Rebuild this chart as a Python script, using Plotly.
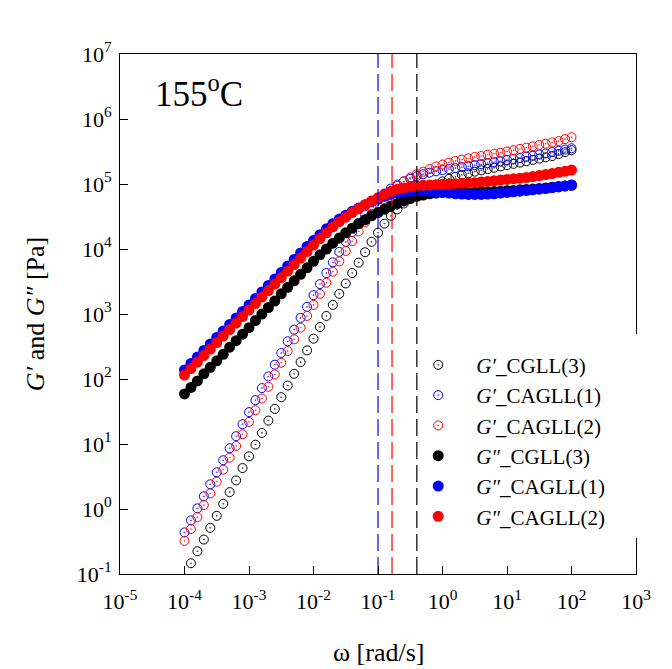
import numpy as np
import plotly.graph_objects as go

# angular frequency, log10(omega / rad s^-1)
log_omega = [-4.0, -3.9, -3.8, -3.7, -3.6, -3.5, -3.4, -3.3, -3.2, -3.1,
             -3.0, -2.9, -2.8, -2.7, -2.6, -2.5, -2.4, -2.3, -2.2, -2.1,
             -2.0, -1.9, -1.8, -1.7, -1.6, -1.5, -1.4, -1.3, -1.2, -1.1,
             -1.0, -0.9, -0.8, -0.7, -0.6, -0.5, -0.4, -0.3, -0.2, -0.1,
             0.0, 0.1, 0.2, 0.3, 0.4, 0.5, 0.6, 0.7, 0.8, 0.9,
             1.0, 1.1, 1.2, 1.3, 1.4, 1.5, 1.6, 1.7, 1.8, 1.9, 2.0]

# log10(G' / Pa)
log_gp_cgll3 = [-1.12, -0.835, -0.65, -0.47, -0.29, -0.105, 0.08, 0.26, 0.44, 0.63,
                0.81, 0.99, 1.17, 1.36, 1.54, 1.72, 1.90, 2.08, 2.26, 2.44,
                2.62, 2.80, 2.97, 3.14, 3.31, 3.47, 3.63, 3.79, 3.95, 4.11,
                4.25, 4.39, 4.51, 4.61, 4.70, 4.77, 4.83, 4.89, 4.94, 4.99,
                5.04, 5.08, 5.11, 5.14, 5.165, 5.19, 5.21, 5.23, 5.25, 5.27,
                5.29, 5.31, 5.33, 5.35, 5.37, 5.39, 5.41, 5.43, 5.46, 5.49, 5.52]
log_gp_cagll1 = [-0.36, -0.175, 0.01, 0.195, 0.38, 0.565, 0.75, 0.935, 1.12, 1.305,
                 1.49, 1.675, 1.86, 2.04, 2.22, 2.40, 2.58, 2.76, 2.94, 3.11,
                 3.29, 3.46, 3.63, 3.795, 3.955, 4.11, 4.26, 4.40, 4.53, 4.65,
                 4.76, 4.855, 4.93, 4.99, 5.04, 5.08, 5.12, 5.15, 5.175, 5.195,
                 5.215, 5.23, 5.245, 5.26, 5.275, 5.29, 5.305, 5.32, 5.335, 5.35,
                 5.37, 5.385, 5.40, 5.42, 5.435, 5.455, 5.47, 5.49, 5.51, 5.53, 5.55]
log_gp_cagll2 = [-0.49, -0.31, -0.125, 0.06, 0.24, 0.42, 0.605, 0.79, 0.97, 1.15,
                 1.34, 1.52, 1.70, 1.88, 2.07, 2.25, 2.43, 2.61, 2.79, 2.97,
                 3.14, 3.31, 3.48, 3.65, 3.81, 3.97, 4.12, 4.27, 4.41, 4.54,
                 4.66, 4.77, 4.88, 4.97, 5.04, 5.10, 5.15, 5.19, 5.23, 5.27,
                 5.30, 5.33, 5.355, 5.375, 5.395, 5.415, 5.43, 5.45, 5.465, 5.48,
                 5.50, 5.52, 5.54, 5.56, 5.58, 5.60, 5.62, 5.64, 5.66, 5.69, 5.72]

# log10(G'' / Pa)
log_gpp_cgll3 = [1.77, 1.87, 1.97, 2.08, 2.18, 2.28, 2.38, 2.49, 2.59, 2.69,
                 2.79, 2.90, 3.00, 3.10, 3.20, 3.31, 3.41, 3.51, 3.61, 3.71,
                 3.81, 3.91, 4.00, 4.09, 4.17, 4.25, 4.32, 4.39, 4.45, 4.51,
                 4.56, 4.61, 4.66, 4.70, 4.74, 4.78, 4.81, 4.83, 4.85, 4.86,
                 4.87, 4.875, 4.875, 4.875, 4.875, 4.875, 4.88, 4.88, 4.885, 4.89,
                 4.895, 4.90, 4.91, 4.915, 4.925, 4.93, 4.94, 4.95, 4.96, 4.97, 4.98]
log_gpp_cagll1 = [2.14, 2.24, 2.34, 2.44, 2.54, 2.64, 2.74, 2.84, 2.94, 3.04,
                  3.14, 3.24, 3.34, 3.44, 3.54, 3.64, 3.74, 3.84, 3.94, 4.04,
                  4.13, 4.22, 4.31, 4.39, 4.46, 4.52, 4.58, 4.63, 4.68, 4.73,
                  4.77, 4.81, 4.84, 4.865, 4.88, 4.89, 4.895, 4.895, 4.89, 4.88,
                  4.87, 4.86, 4.85, 4.845, 4.84, 4.84, 4.84, 4.845, 4.85, 4.86,
                  4.87, 4.88, 4.89, 4.90, 4.91, 4.92, 4.93, 4.945, 4.955, 4.97, 4.985]
log_gpp_cagll2 = [2.06, 2.16, 2.26, 2.36, 2.46, 2.56, 2.66, 2.76, 2.86, 2.96,
                  3.06, 3.16, 3.26, 3.36, 3.46, 3.56, 3.66, 3.76, 3.86, 3.96,
                  4.06, 4.16, 4.25, 4.34, 4.42, 4.49, 4.56, 4.62, 4.68, 4.74,
                  4.79, 4.84, 4.89, 4.92, 4.94, 4.96, 4.97, 4.98, 4.985, 4.99,
                  4.995, 5.0, 5.005, 5.01, 5.015, 5.02, 5.03, 5.04, 5.05, 5.06,
                  5.07, 5.08, 5.09, 5.10, 5.115, 5.13, 5.145, 5.16, 5.18, 5.195, 5.215]

# crossover frequencies (rad/s) marked by dashed lines
crossover_omega = [0.10, 0.165, 0.40]
crossover_colors = ["blue", "red", "black"]

x_tickvals = [1e-5, 1e-4, 1e-3, 1e-2, 1e-1, 1e0, 1e1, 1e2, 1e3]
x_ticktext = ["10<sup>-5</sup>", "10<sup>-4</sup>", "10<sup>-3</sup>", "10<sup>-2</sup>",
              "10<sup>-1</sup>", "10<sup>0</sup>", "10<sup>1</sup>", "10<sup>2</sup>", "10<sup>3</sup>"]
y_tickvals = [1e-1, 1e0, 1e1, 1e2, 1e3, 1e4, 1e5, 1e6, 1e7]
y_ticktext = ["10<sup>-1</sup>", "10<sup>0</sup>", "10<sup>1</sup>", "10<sup>2</sup>",
              "10<sup>3</sup>", "10<sup>4</sup>", "10<sup>5</sup>", "10<sup>6</sup>", "10<sup>7</sup>"]

omega = 10 ** np.array(log_omega)
FONT = "Liberation Serif"

series = [
    ("<i>G′</i>_CGLL(3)", log_gp_cgll3, "black", True),
    ("<i>G′</i>_CAGLL(1)", log_gp_cagll1, "blue", True),
    ("<i>G′</i>_CAGLL(2)", log_gp_cagll2, "red", True),
    ("<i>G″</i>_CGLL(3)", log_gpp_cgll3, "black", False),
    ("<i>G″</i>_CAGLL(1)", log_gpp_cagll1, "blue", False),
    ("<i>G″</i>_CAGLL(2)", log_gpp_cagll2, "red", False),
]

fig = go.Figure()
for i, (name, vals, col, is_open) in enumerate(series):
    if is_open:
        marker = dict(symbol="circle-open-dot", size=9, color=col, line=dict(width=1, color=col))
    else:
        marker = dict(symbol="circle", size=11, color=col, line=dict(width=0))
    fig.add_trace(go.Scatter(x=omega, y=10 ** np.array(vals), mode="markers",
                             name=name, marker=marker))

for w, col in zip(crossover_omega, crossover_colors):
    fig.add_trace(go.Scatter(x=[w, w], y=[1e-1, 1e7], mode="lines", showlegend=False,
                             line=dict(color=col, width=1.2, dash="17px,6px"), hoverinfo="skip"))

axis_common = dict(type="log", showgrid=False, zeroline=False, showline=True, linecolor="black",
                   linewidth=1, mirror=True, ticks="inside", ticklen=8, tickcolor="black",
                   tickfont=dict(family=FONT, size=22, color="black"))

fig.update_xaxes(range=[-5, 3], tickvals=x_tickvals, ticktext=x_ticktext, ticklabelstandoff=8,
                 **axis_common)
fig.update_yaxes(range=[-1, 7], tickvals=y_tickvals, ticktext=y_ticktext, ticklabelstandoff=3,
                 title=dict(text="<i>G′</i> and <i>G″</i> [Pa]", font=dict(family=FONT, size=26, color="black"), standoff=24),
                 **axis_common)

# x-axis title
fig.add_annotation(x=0.5, y=-0.15, xref="paper", yref="paper", showarrow=False,
                   xanchor="center", yanchor="middle",
                   text="ω [rad/s]", font=dict(family=FONT, size=26, color="black"))

fig.add_annotation(x=0.153, y=0.927, xref="paper", yref="paper", showarrow=False,
                   xanchor="center", yanchor="middle",
                   text="155<sup>o</sup>C", font=dict(family=FONT, size=35, color="black"))

# white patch hiding the right frame line behind the legend
fig.add_shape(type="rect", xref="paper", yref="paper", x0=0.985, x1=1.02, y0=0.069, y1=0.4615,
              fillcolor="white", line=dict(width=0), layer="above")

fig.update_layout(
    width=672, height=669,
    margin=dict(l=112, r=44, t=46, b=103),
    paper_bgcolor="white", plot_bgcolor="white",
    showlegend=True,
    legend=dict(x=0.543, y=0.441, xanchor="left", yanchor="top", bgcolor="rgba(0,0,0,0)",
                borderwidth=0, font=dict(family=FONT, size=21, color="black"),
                itemwidth=66),
)

fig.write_html("out.html")
